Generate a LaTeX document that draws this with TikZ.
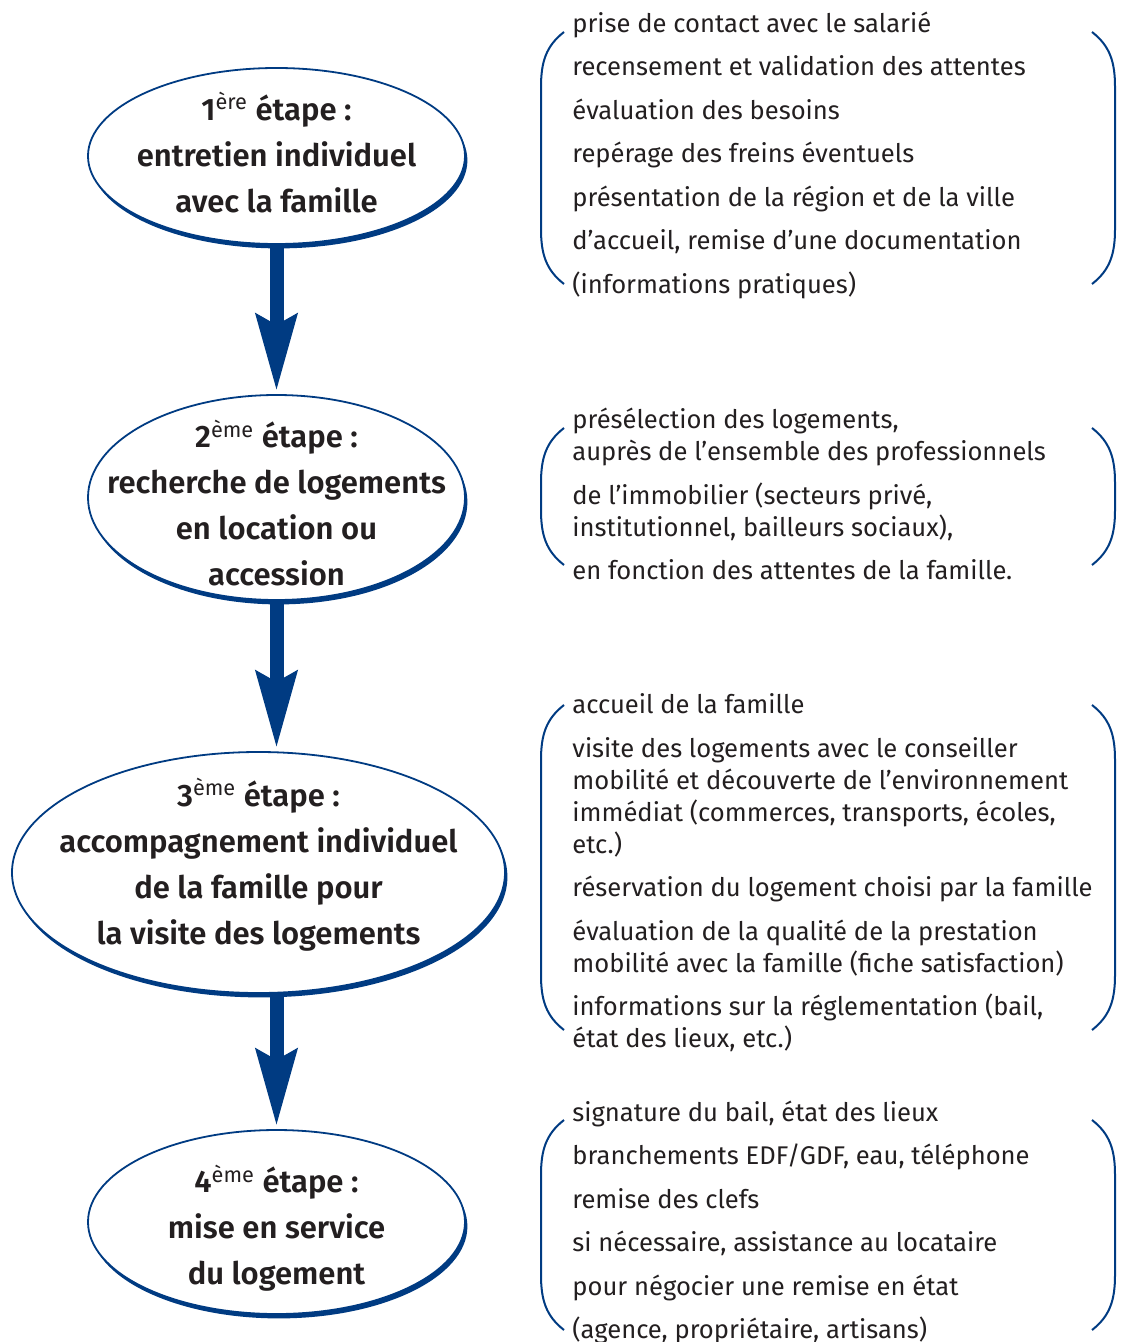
\documentclass[tikz,border=0pt]{standalone}
\usepackage{fontspec}
\setmainfont{Fira Sans}[BoldFont={* SemiBold}]
\usetikzlibrary{arrows.meta,positioning,shapes.geometric,shadows}
\definecolor{navy}{RGB}{0,59,130}
\definecolor{ink}{RGB}{35,31,32}
\tikzset{
  etape/.style={ellipse, draw=navy, line width=0.9pt, fill=white, inner sep=0pt,
    drop shadow={shadow xshift=1.2pt, shadow yshift=-2.2pt, fill=navy, opacity=1}},
  titre/.style={align=center, inner sep=0pt, text=ink,
    font=\bfseries\fontsize{15.5}{23}\selectfont},
  flow/.style={navy, line width=7pt, shorten >=1.5pt,
    -{Stealth[length=38pt, width=20pt, inset=5pt]}},
  liste/.style={anchor=base west, align=left, inner sep=0pt, text=ink,
    font=\fontsize{12.8}{16}\selectfont},
  accolade/.style={navy, line width=1pt}
}
\newcommand{\accolades}[2]{%
  \draw[accolade] (564,#1) .. controls (546,#1+14) and (541,#1+30) .. (541,#1+55)
    -- (541,#2-55) .. controls (541,#2-30) and (546,#2-14) .. (564,#2);
  \draw[accolade] (1092,#1) .. controls (1110,#1+14) and (1115,#1+30) .. (1115,#1+55)
    -- (1115,#2-55) .. controls (1115,#2-30) and (1110,#2-14) .. (1092,#2);
}
\newcommand{\gap}{\\[5.75pt]}
\newcommand{\rang}[1]{\textsuperscript{\mdseries #1}}
\begin{document}
\begin{tikzpicture}[x=0.5pt, y=-0.5pt]
  \useasboundingbox[fill=white] (0,0) rectangle (1120,1342);
  % Steps
  \node[etape, minimum width=188.5pt, minimum height=88pt] (e1) at (276.5,156) {};
  \node[etape, minimum width=188.5pt, minimum height=102.5pt] (e2) at (276.5,497.5) {};
  \node[etape, minimum width=246.5pt, minimum height=120.5pt] (e3) at (258.5,872.5) {};
  \node[etape, minimum width=188.5pt, minimum height=92pt] (e4) at (276.5,1222) {};
  \node[titre] (t1) at (276.5,152.5)
    {1\rang{ère} étape :\\ entretien individuel\\ avec la famille};
  \node[titre] (t2) at (276.5,503)
    {2\rang{ème} étape :\\ recherche de logements\\ en location ou\\ accession};
  \node[titre] (t3) at (258.5,864.5)
    {3\rang{ème} étape :\\ accompagnement individuel\\ de la famille pour\\ la visite des logements};
  \node[titre] (t4) at (276.5,1228)
    {4\rang{ème} étape :\\ mise en service\\ du logement};
  % Arrows
  \draw[flow] (e1) -- (e2);
  \draw[flow] (e2) -- (e2 |- e3.north);
  \draw[flow] (e3.south -| e4) -- (e4);
  % Details (anchored on the last line)
  \node[liste] (d1) at (572,293.5)
    {prise de contact avec le salarié\gap
     recensement et validation des attentes\gap
     évaluation des besoins\gap
     repérage des freins éventuels\gap
     présentation de la région et de la ville\gap
     d’accueil, remise d’une documentation\gap
     (informations pratiques)};
  \node[liste] (d2) at (572,579.5)
    {présélection des logements,\\
     auprès de l’ensemble des professionnels\gap
     de l’immobilier (secteurs privé,\\
     institutionnel, bailleurs sociaux),\gap
     en fonction des attentes de la famille.};
  \node[liste] (d3) at (572,1047.5)
    {accueil de la famille\gap
     visite des logements avec le conseiller\\
     mobilité et découverte de l’environnement\\
     immédiat (commerces, transports, écoles,\\
     etc.)\gap
     réservation du logement choisi par la famille\gap
     évaluation de la qualité de la prestation\\
     mobilité avec la famille (fiche satisfaction)\gap
     informations sur la réglementation (bail,\\
     état des lieux, etc.)};
  \node[liste] (d4) at (572,1338.5)
    {signature du bail, état des lieux\gap
     branchements EDF/GDF, eau, téléphone\gap
     remise des clefs\gap
     si nécessaire, assistance au locataire\gap
     pour négocier une remise en état\gap
     (agence, propriétaire, artisans)};
  % Brackets
  \accolades{32}{284}
  \accolades{428}{565}
  \accolades{705}{1030}
  \accolades{1120}{1330}
\end{tikzpicture}
\end{document}
